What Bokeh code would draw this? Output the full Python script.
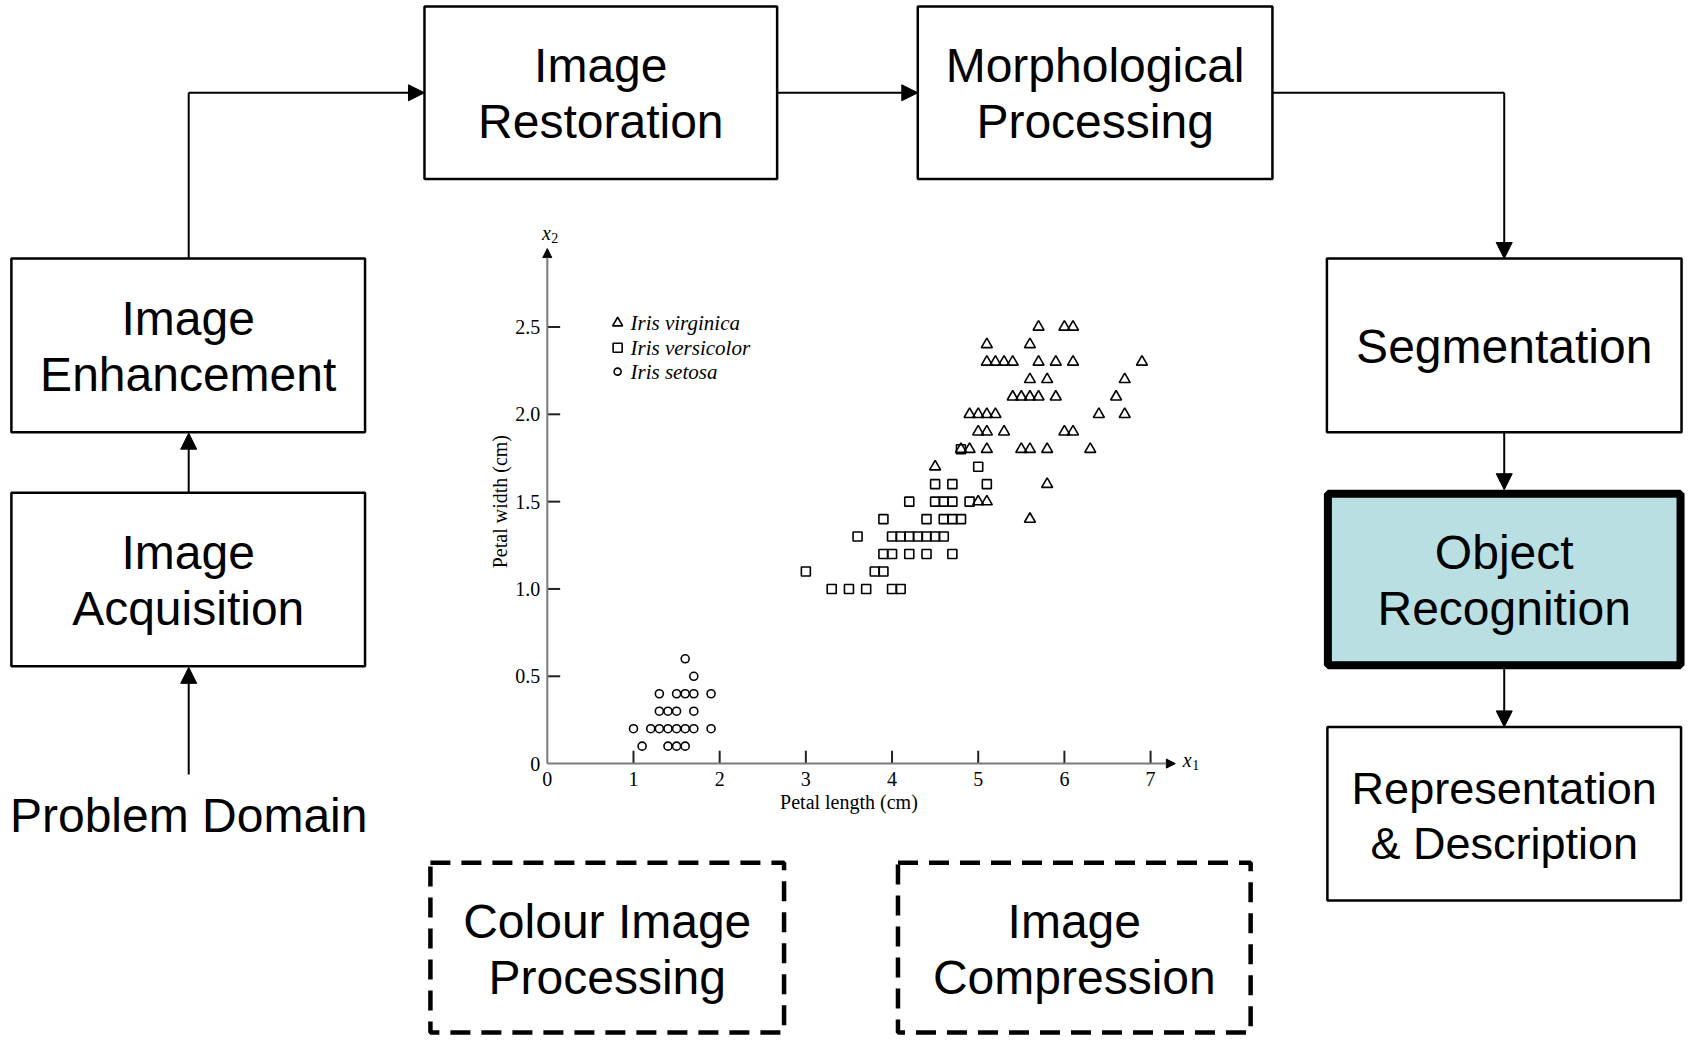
import math
from bokeh.plotting import figure
from bokeh.models import Range1d, Arrow, NormalHead
from bokeh.core.properties import value
from bokeh.embed import file_html
from bokeh.resources import INLINE

# ---------------- data ----------------
setosa_length = [1.1, 1.4, 1.5, 1.6,
                 1.0, 1.2, 1.3, 1.4, 1.5, 1.6, 1.7, 1.9,
                 1.3, 1.4, 1.5, 1.7,
                 1.3, 1.5, 1.6, 1.7, 1.9,
                 1.7, 1.6]
setosa_width = [0.1, 0.1, 0.1, 0.1,
                0.2, 0.2, 0.2, 0.2, 0.2, 0.2, 0.2, 0.2,
                0.3, 0.3, 0.3, 0.3,
                0.4, 0.4, 0.4, 0.4, 0.4,
                0.5, 0.6]

versicolor_length = [3.3, 3.5, 3.7, 4.0, 4.1,
                     3.0, 3.8, 3.9,
                     3.9, 4.0, 4.2, 4.4, 4.7,
                     3.6, 4.0, 4.1, 4.2, 4.3, 4.4, 4.5, 4.6,
                     3.9, 4.4, 4.6, 4.7, 4.8,
                     4.2, 4.5, 4.6, 4.7, 4.9,
                     4.5, 4.7, 5.1,
                     5.0,
                     4.8]
versicolor_width = [1.0, 1.0, 1.0, 1.0, 1.0,
                    1.1, 1.1, 1.1,
                    1.2, 1.2, 1.2, 1.2, 1.2,
                    1.3, 1.3, 1.3, 1.3, 1.3, 1.3, 1.3, 1.3,
                    1.4, 1.4, 1.4, 1.4, 1.4,
                    1.5, 1.5, 1.5, 1.5, 1.5,
                    1.6, 1.6, 1.6,
                    1.7,
                    1.8]

virginica_length = [5.6,
                    5.0, 5.1,
                    5.8,
                    4.5,
                    4.8, 4.9, 5.1, 5.5, 5.6, 5.8, 6.3,
                    5.0, 5.1, 5.3, 6.0, 6.1,
                    4.9, 5.0, 5.1, 5.2, 6.4, 6.7,
                    5.4, 5.5, 5.6, 5.7, 5.9, 6.6,
                    5.6, 5.8, 6.7,
                    5.1, 5.2, 5.3, 5.4, 5.7, 5.9, 6.1, 6.9,
                    5.1, 5.6,
                    5.7, 6.0, 6.1]
virginica_width = [1.4,
                   1.5, 1.5,
                   1.6,
                   1.7,
                   1.8, 1.8, 1.8, 1.8, 1.8, 1.8, 1.8,
                   1.9, 1.9, 1.9, 1.9, 1.9,
                   2.0, 2.0, 2.0, 2.0, 2.0, 2.0,
                   2.1, 2.1, 2.1, 2.1, 2.1, 2.1,
                   2.2, 2.2, 2.2,
                   2.3, 2.3, 2.3, 2.3, 2.3, 2.3, 2.3, 2.3,
                   2.4, 2.4,
                   2.5, 2.5, 2.5]

x_ticks = [1, 2, 3, 4, 5, 6, 7]
x_tick_values_labelled = [0, 1, 2, 3, 4, 5, 6, 7]
x_tick_labels = ["0", "1", "2", "3", "4", "5", "6", "7"]
y_ticks = [0.5, 1.0, 1.5, 2.0, 2.5]
y_tick_values_labelled = [0, 0.5, 1.0, 1.5, 2.0, 2.5]
y_tick_labels = ["0", "0.5", "1.0", "1.5", "2.0", "2.5"]
legend_labels = ["Iris virginica", "Iris versicolor", "Iris setosa"]
x_axis_title = "Petal length (cm)"
y_axis_title = "Petal width (cm)"

# ---------------- page / layout ----------------
SANS = value("Liberation Sans")
SERIF = value("Liberation Serif")

YTOP, YBOT = 3, 1048
p = figure(width=1685, height=1037,
           x_range=Range1d(0, 1701), y_range=Range1d(YBOT, YTOP),
           x_axis_type=None, y_axis_type=None,
           output_backend="svg", toolbar_location=None,
           min_border=0, min_border_left=0, min_border_right=0,
           min_border_top=0, min_border_bottom=0)
p.grid.visible = False
p.outline_line_color = None
p.background_fill_color = "white"
p.border_fill_color = "white"

# scatter scales (library ranges) : origin and pixels-per-unit in page units
X0, SX = 552.0, 87.0
Y0, SY = 772.0, 176.0
p.extra_x_ranges = {"pl": Range1d((0 - X0) / SX, (1701 - X0) / SX)}
p.extra_y_ranges = {"pw": Range1d((Y0 - YBOT) / SY, (Y0 - YTOP) / SY)}
S = dict(x_range_name="pl", y_range_name="pw")

# ---------------- flow-chart boxes ----------------
# (cx, cy, w, h, lines, font_px, style, line offsets)
boxes = [
    (606, 96, 356, 174, ["Image", "Restoration"], 48, "solid", (-27, 29)),
    (1105, 96, 358, 174, ["Morphological", "Processing"], 48, "solid", (-27, 29)),
    (189.5, 350.5, 357, 175, ["Image", "Enhancement"], 48, "solid", (-27, 29)),
    (189.5, 586.5, 357, 175, ["Image", "Acquisition"], 48, "solid", (-27, 29)),
    (1518, 350.5, 358, 175, ["Segmentation"], 48, "solid", (1,)),
    (1518, 586.5, 356, 173, ["Object", "Recognition"], 48, "bold", (-27, 29)),
    (1518, 822.5, 357, 175, ["Representation", "& Description"], 45, "solid", (-25, 30)),
    (612.5, 957.5, 357, 171, ["Colour Image", "Processing"], 48, "dashed", (-26, 30)),
    (1084, 957.5, 356, 171, ["Image", "Compression"], 48, "dashed", (-26, 30)),
]

for cx, cy, w, h, lines, fs, style, offs in boxes:
    if style == "solid":
        p.rect(x=[cx], y=[cy], width=[w], height=[h], fill_color="white",
               line_color="black", line_width=2.5)
    elif style == "bold":
        p.rect(x=[cx], y=[cy], width=[w], height=[h], fill_color="#b9dfe3",
               line_color="black", line_width=8)
    else:
        p.rect(x=[cx], y=[cy], width=[w], height=[h], fill_color=None,
               line_color="black", line_width=4.5, line_dash="20 11")
    ys = [cy + o for o in offs]
    p.text(x=[cx] * len(lines), y=ys, text=lines, text_font=SANS,
           text_font_size=f"{fs}px", text_align="center",
           text_baseline="middle", text_color="black")

p.text(x=[190], y=[824], text=["Problem Domain"], text_font=SANS,
       text_font_size="48px", text_align="center", text_baseline="middle")

# ---------------- arrows ----------------
def arrow(x0, y0, x1, y1):
    p.add_layout(Arrow(end=NormalHead(size=16, fill_color="black",
                                      line_color="black", line_width=1),
                       x_start=x0, y_start=y0, x_end=x1, y_end=y1,
                       line_color="black", line_width=2))

arrow(190, 783, 190, 675)
arrow(190, 499, 190, 439)
p.line(x=[190, 190], y=[263, 96], line_color="black", line_width=2)
arrow(190, 96, 428, 96)
arrow(784, 96, 926, 96)
p.line(x=[1284, 1518], y=[96, 96], line_color="black", line_width=2)
arrow(1518, 96, 1518, 263)
arrow(1518, 438, 1518, 496)
arrow(1518, 677, 1518, 735)

# ---------------- scatter plot ----------------
AXC = "#7a7a7a"
p.add_layout(Arrow(end=NormalHead(size=9, fill_color="black", line_color="black", line_width=1),
                   x_start=0, y_start=0, x_end=0, y_end=(Y0 - 253) / SY,
                   line_color=AXC, line_width=2, **S))
p.add_layout(Arrow(end=NormalHead(size=9, fill_color="black", line_color="black", line_width=1),
                   x_start=0, y_start=0, x_end=(1186 - X0) / SX, y_end=0,
                   line_color=AXC, line_width=2, **S))

TL = 13.0  # tick length in page pixels
p.segment(x0=[0] * len(y_ticks), y0=y_ticks, x1=[TL / SX] * len(y_ticks), y1=y_ticks,
          line_color="#222222", line_width=2, **S)
p.segment(x0=x_ticks, y0=[0] * len(x_ticks), x1=x_ticks, y1=[TL / SY] * len(x_ticks),
          line_color="#222222", line_width=2, **S)

p.text(x=[0] * len(y_tick_labels), y=y_tick_values_labelled, text=y_tick_labels,
       x_offset=-7, text_font=SERIF, text_font_size="20px",
       text_align="right", text_baseline="middle", **S)
p.text(x=x_tick_values_labelled, y=[0] * len(x_tick_labels), text=x_tick_labels,
       y_offset=15, text_font=SERIF, text_font_size="20px",
       text_align="center", text_baseline="middle", **S)

p.text(x=[3.5], y=[0], text=[x_axis_title], y_offset=38, text_font=SERIF,
       text_font_size="20px", text_align="center", text_baseline="middle", **S)
p.text(x=[0], y=[1.5], text=[y_axis_title], x_offset=-47, text_font=SERIF,
       text_font_size="20px", text_align="center", text_baseline="middle",
       angle=math.pi / 2, **S)

# axis symbols x2 / x1
p.text(x=[551], y=[237], text=["x"], text_font=SERIF, text_font_style="italic",
       text_font_size="20px", text_align="center", text_baseline="middle")
p.text(x=[556], y=[242], text=["2"], text_font=SERIF,
       text_font_size="14px", text_align="left", text_baseline="middle")
p.text(x=[1198], y=[768], text=["x"], text_font=SERIF, text_font_style="italic",
       text_font_size="20px", text_align="center", text_baseline="middle")
p.text(x=[1203], y=[773], text=["1"], text_font=SERIF,
       text_font_size="14px", text_align="left", text_baseline="middle")

MK = dict(fill_color=None, line_color="black", line_width=1.6)
p.scatter(virginica_length, virginica_width, marker="triangle", size=11, **MK, **S)
p.scatter(versicolor_length, versicolor_width, marker="square", size=9, **MK, **S)
p.scatter(setosa_length, setosa_width, marker="circle", size=8, **MK, **S)

# legend
leg_y = [328, 353, 377]
p.scatter([623], [leg_y[0]], marker="triangle", size=10, **MK)
p.scatter([623], [leg_y[1]], marker="square", size=9, **MK)
p.scatter([623], [leg_y[2]], marker="circle", size=7, **MK)
p.text(x=[636, 636, 636], y=leg_y, text=legend_labels,
       text_font=SERIF, text_font_style="italic", text_font_size="21px",
       text_align="left", text_baseline="middle")

open("out.html", "w").write(file_html(p, INLINE))
